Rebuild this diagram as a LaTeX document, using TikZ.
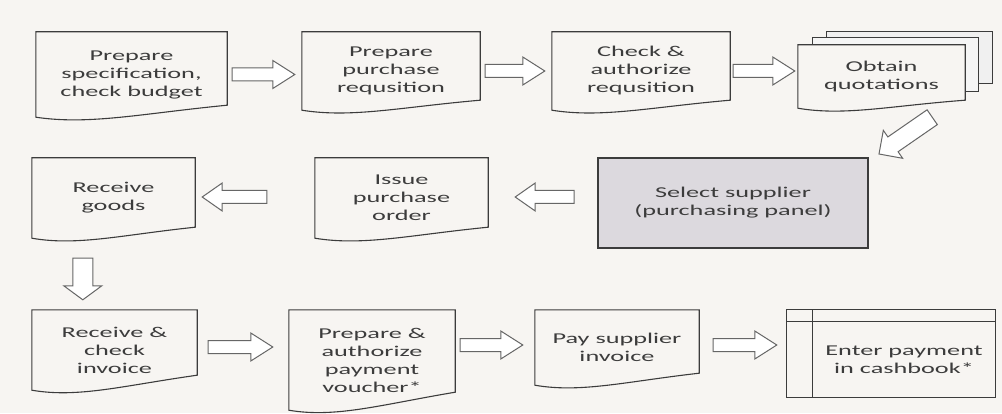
\documentclass[tikz,border=0pt]{standalone}
\usepackage{fontspec}
\newfontfamily\flowfont[FakeStretch=1.75]{Carlito}
\usetikzlibrary{calc,backgrounds}

\definecolor{paper}{HTML}{F7F5F2}
\definecolor{panel}{HTML}{DCD9DE}
\definecolor{ink}{HTML}{3C3C3C}

\tikzset{
  docnode/.style={rectangle, inner sep=0pt, align=center, text=ink,
    font=\flowfont\fontsize{15}{18}\selectfont},
  docline/.style={draw=ink, line width=1.1pt, fill=paper},
  blockarrow/.style={draw=black!60, line width=1pt, fill=white, line join=miter},
}

% document outline under a node: #1 node, #2 rise of the right corner
\newcommand{\docoutline}[2]{%
  \draw[docline] (#1.north west) -- (#1.north east) -- ([yshift=#2pt]#1.south east)
    .. controls ($(#1.south west)!0.55!(#1.south east)+(0,0.3*#2)$) and ($(#1.south west)!0.28!(#1.south east)+(0,-8)$) .. (#1.south west) -- cycle;}

% hollow block arrow: #1 half shaft, #2 half head, #3 head length, #4 from, #5 to
\newcommand{\fatarrow}[5]{%
  \coordinate (fa-a) at (#4);
  \coordinate (fa-b) at (#5);
  \coordinate (fa-n) at ($(fa-b)!#3pt!(fa-a)$);
  \draw[blockarrow] ($(fa-a)!#1pt!90:(fa-b)$) -- ($(fa-n)!#1pt!90:(fa-b)$) -- ($(fa-n)!#2pt!90:(fa-b)$)
    -- (fa-b) -- ($(fa-n)!#2pt!-90:(fa-b)$) -- ($(fa-n)!#1pt!-90:(fa-b)$) -- ($(fa-a)!#1pt!-90:(fa-b)$) -- cycle;}

\begin{document}
\begin{tikzpicture}[x=1pt, y=1pt]
  \useasboundingbox (0,0) rectangle (1002,413);

  % first row
  \node[docnode, minimum width=191pt, minimum height=85pt] (spec) at (131.5,338.5) {Prepare\\specification,\\check budget};
  \node[docnode, minimum width=178pt, minimum height=78pt] (req) at (391,342) {Prepare\\purchase\\requsition};
  \node[docnode, minimum width=178pt, minimum height=78pt] (auth) at (641,342) {Check \&\\authorize\\requsition};
  \node[docnode, minimum width=167pt, minimum height=63pt] (quot) at (881.5,336.5) {Obtain\\quotations};

  % second row
  \node[docnode, draw=ink, line width=2pt, fill=panel, minimum width=270pt, minimum height=90pt] (select) at (733,210) {Select supplier\\(purchasing panel)};
  \node[docnode, minimum width=173pt, minimum height=80pt] (po) at (401.5,215) {Issue\\purchase\\order};
  \node[docnode, minimum width=163pt, minimum height=80pt] (recv) at (113.5,215) {Receive\\goods};

  % third row
  \node[docnode, minimum width=165pt, minimum height=80pt] (inv) at (114.5,63) {Receive \&\\check\\invoice};
  \node[docnode, minimum width=166pt, minimum height=100pt] (vouch) at (372,53) {Prepare \&\\authorize\\payment\\voucher*};
  \node[docnode, minimum width=164pt, minimum height=75pt] (pay) at (617,65.5) {Pay supplier\\invoice};
  \node[docnode, minimum width=182pt, minimum height=75pt] (cash) at (904,53.5) {Enter payment\\in cashbook*};

  \begin{scope}[on background layer]
    \fill[paper] (0,0) rectangle (1002,413);
    \draw[docline, fill=gray!12] ($(quot.north west)+(29,13)$) rectangle ($(quot.north east)+(27,-39)$);
    \draw[docline, fill=gray!8] ($(quot.north west)+(15,7)$) rectangle ($(quot.north east)+(13,-47)$);
    \docoutline{spec}{12}
    \docoutline{req}{10}
    \docoutline{auth}{10}
    \docoutline{quot}{8}
    \docoutline{po}{11}
    \docoutline{recv}{11}
    \docoutline{inv}{15}
    \docoutline{vouch}{18}
    \docoutline{pay}{12}
    \draw[docline, line width=1.3pt] ($(cash.south west)+(-26,0)$) rectangle ($(cash.north east)+(0,12)$);
    \draw[ink, line width=1.3pt] ($(cash.north west)+(-26,0)$) -- (cash.north east);
    \draw[ink, line width=1.3pt] (cash.south west) -- ($(cash.north west)+(0,12)$);
  \end{scope}

  \fatarrow{6.5}{14}{22}{$(spec.east)+(5,0)$}{$(spec.east -| req.west)+(-7,0)$}
  \fatarrow{6.5}{14}{22}{$(req.east)+(5,0)$}{$(auth.west)+(-7,0)$}
  \fatarrow{6.5}{14}{22}{$(auth.east)+(3,0)$}{$(auth.east -| quot.west)+(-3,0)$}
  \fatarrow{9}{17}{17}{$(quot.south east)+(-33,-9)$}{$(select.north east)+(10,3)$}
  \fatarrow{6.5}{14}{20}{$(select.west)+(-23,6)$}{$(po.east)+(27,1)$}
  \fatarrow{6.5}{14}{20}{$(po.west)+(-48,1)$}{$(recv.east)+(7,1)$}
  \fatarrow{10}{19}{14}{$(recv.south west)+(51,-20)$}{$(inv.north west)+(51,10)$}
  \fatarrow{6.5}{14}{22}{$(inv.east)+(11,3)$}{$(vouch.west)+(-16,13)$}
  \fatarrow{6.5}{14}{22}{$(vouch.east)+(5,15)$}{$(pay.west)+(-12,2.5)$}
  \fatarrow{6.5}{14}{22}{$(pay.east)+(14,2.5)$}{$(cash.west)+(-36,14.5)$}
\end{tikzpicture}
\end{document}
